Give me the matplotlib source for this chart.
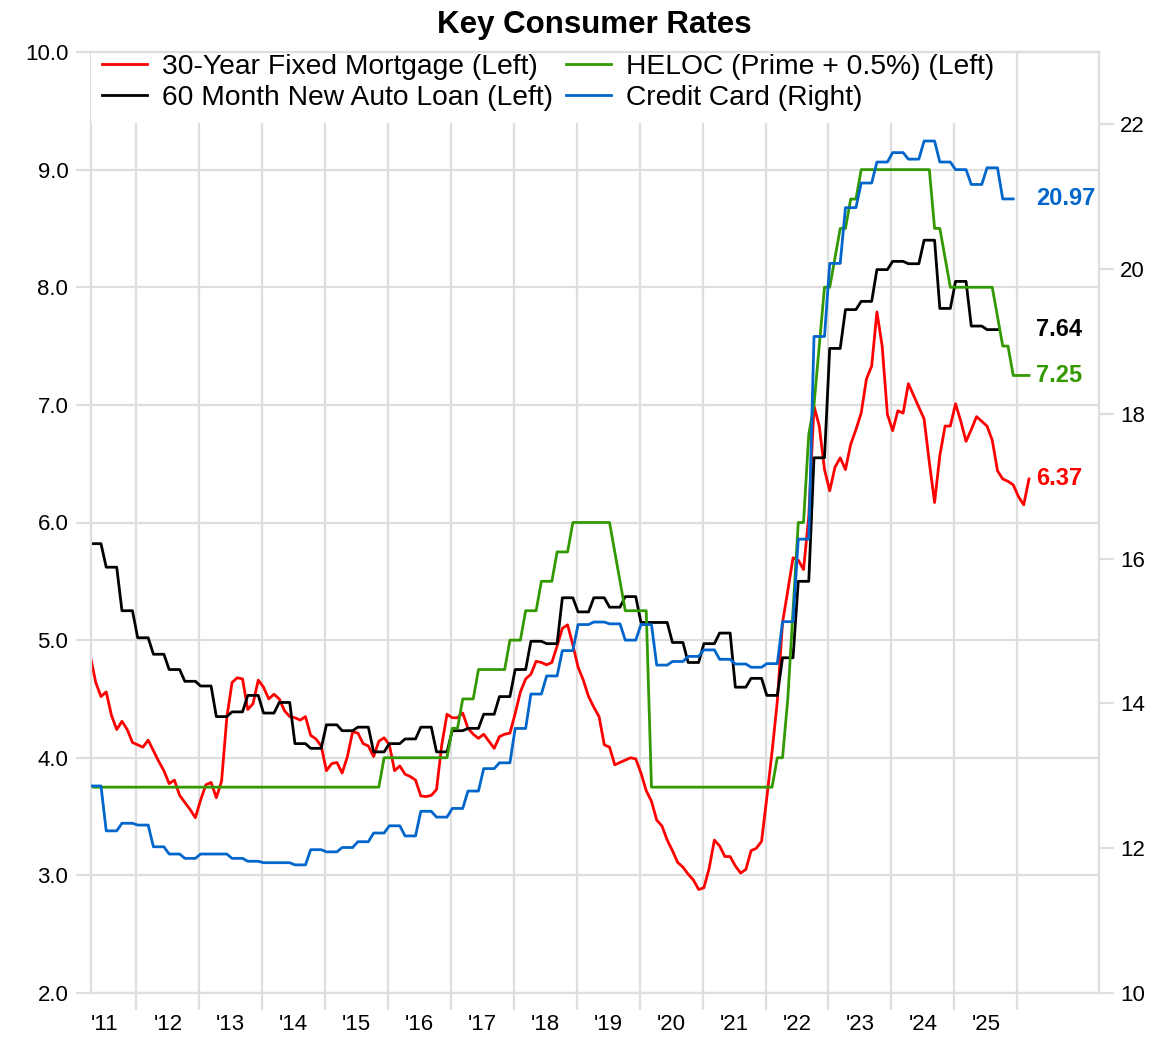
import numpy as np
import matplotlib
matplotlib.use("Agg")
import matplotlib.pyplot as plt
from matplotlib.ticker import FormatStrFormatter

plt.rcParams['font.family'] = ['Liberation Sans', 'DejaVu Sans']

# first monthly observation sits just after the start of April 2011
start_year = 2011.27

# 30-year fixed mortgage, monthly (Apr 2011 ->)
mortgage = [
    4.86, 4.64, 4.52, 4.56, 4.36, 4.24, 4.31, 4.24, 4.13, 4.11,
    4.09, 4.15, 4.06, 3.97, 3.89, 3.78, 3.81, 3.68, 3.62, 3.56,
    3.49, 3.64, 3.77, 3.79, 3.66, 3.80, 4.34, 4.64, 4.68, 4.67,
    4.41, 4.46, 4.66, 4.60, 4.50, 4.54, 4.50, 4.40, 4.35, 4.34,
    4.32, 4.35, 4.19, 4.16, 4.10, 3.89, 3.95, 3.96, 3.87, 4.01,
    4.22, 4.21, 4.12, 4.10, 4.01, 4.14, 4.17, 4.11, 3.89, 3.93,
    3.86, 3.84, 3.81, 3.675, 3.67, 3.68, 3.73, 4.11, 4.37, 4.34,
    4.34, 4.38, 4.25, 4.20, 4.165, 4.20, 4.14, 4.08, 4.18, 4.20,
    4.21, 4.375, 4.56, 4.67, 4.71, 4.82, 4.81, 4.79, 4.81, 4.95,
    5.10, 5.13, 4.96, 4.77, 4.66, 4.52, 4.43, 4.35, 4.11, 4.09,
    3.94, 3.96, 3.98, 4.00, 3.99, 3.87, 3.72, 3.63, 3.47, 3.42,
    3.30, 3.21, 3.11, 3.07, 3.01, 2.96, 2.88, 2.895, 3.06, 3.30,
    3.25, 3.16, 3.16, 3.08, 3.02, 3.05, 3.21, 3.23, 3.29, 3.66,
    4.05, 4.48, 5.15, 5.42, 5.70, 5.68, 5.60, 6.05, 6.99, 6.82,
    6.45, 6.27, 6.47, 6.55, 6.45, 6.665, 6.79, 6.93, 7.22, 7.33,
    7.79, 7.50, 6.92, 6.78, 6.95, 6.93, 7.18, 7.08, 6.98, 6.88,
    6.51, 6.17, 6.57, 6.82, 6.82, 7.01, 6.86, 6.69, 6.79, 6.90,
    6.86, 6.82, 6.70, 6.44, 6.37, 6.35, 6.32, 6.22, 6.15, 6.37,
]

# HELOC (prime + 0.5%), monthly, stored as (rate, number of months)
heloc_runs = [
    (3.75, 56), (4.00, 13), (4.25, 2), (4.50, 3), (4.75, 6), (5.00, 3),
    (5.25, 3), (5.50, 3), (5.75, 3), (6.00, 8), (5.75, 1), (5.50, 1),
    (5.25, 5), (3.75, 24), (4.00, 2), (4.50, 1), (5.25, 1), (6.00, 2),
    (6.75, 1), (7.00, 1), (7.50, 1), (8.00, 2), (8.25, 1), (8.50, 2),
    (8.75, 2), (9.00, 14), (8.50, 2), (8.25, 1), (8.00, 9), (7.75, 1),
    (7.50, 2), (7.25, 4),
]

# 60 month new auto loan, quarterly (Q2 2011 -> Q3 2025)
auto_q = [
    5.82, 5.62, 5.25,
    5.02, 4.88, 4.75, 4.65,
    4.61, 4.35, 4.39, 4.53,
    4.38, 4.47, 4.12, 4.08,
    4.28, 4.23, 4.26, 4.05,
    4.12, 4.16, 4.26, 4.05,
    4.23, 4.25, 4.37, 4.52,
    4.75, 4.99, 4.97, 5.36,
    5.24, 5.36, 5.28, 5.37,
    5.15, 5.15, 4.98, 4.81,
    4.97, 5.06, 4.60, 4.675,
    4.53, 4.85, 5.50, 6.55,
    7.48, 7.81, 7.88, 8.15,
    8.22, 8.20, 8.40, 7.82,
    8.05, 7.67, 7.64,
]

# credit card, quarterly (Q2 2011 -> Q4 2025)
card_q = [
    12.86, 12.24, 12.345,
    12.32, 12.02, 11.92, 11.86,
    11.92, 11.92, 11.86, 11.82,
    11.80, 11.80, 11.77, 11.98,
    11.95, 12.01, 12.09, 12.21,
    12.31, 12.17, 12.51, 12.43,
    12.55, 12.79, 13.10, 13.18,
    13.655, 14.13, 14.38, 14.73,
    15.09, 15.125, 15.10, 14.875,
    15.09, 14.53, 14.58, 14.65,
    14.74, 14.61, 14.545, 14.50,
    14.55, 15.13, 16.27, 19.07,
    20.08, 20.85, 21.19, 21.48,
    21.61, 21.52, 21.77, 21.48,
    21.375, 21.17, 21.40, 20.97,
]

year_labels = ["'11", "'12", "'13", "'14", "'15", "'16", "'17", "'18",
               "'19", "'20", "'21", "'22", "'23", "'24", "'25"]
legend_labels = ['30-Year Fixed Mortgage (Left)', '60 Month New Auto Loan (Left)',
                 'HELOC (Prime + 0.5%) (Left)', 'Credit Card (Right)']

red, black, green, blue = '#ff0000', '#000000', '#339900', '#0066cc'
grid_c = '#dedede'

heloc = np.concatenate([[v] * n for v, n in heloc_runs])
auto = np.repeat(auto_q, 3)
card = np.repeat(card_q, 3)


def months(series):
    return start_year + np.arange(len(series)) / 12


fig = plt.figure(figsize=(11.57, 10.40), dpi=100)
ax = fig.add_axes([90.5 / 1157, 47 / 1040, 1008.5 / 1157, 941 / 1040])
ax2 = ax.twinx()

l1, = ax.plot(months(mortgage), mortgage, color=red, lw=2)
l2, = ax.plot(months(auto), auto, color=black, lw=2)
l3, = ax.plot(months(heloc), heloc, color=green, lw=2)
l4, = ax2.plot(months(card), card, color=blue, lw=2)

ax.set_xlim(start_year, 2027.3)
ax.set_ylim(2, 10)
ax2.set_ylim(10, 23)

ax.set_xticks(np.arange(2012, 2027))
ax.set_xticklabels([])
ax.set_xticks(np.arange(2011.5, 2026), minor=True)
ax.set_xticklabels(year_labels, minor=True)
ax.tick_params(axis='x', which='major', length=12, width=1.6, color=grid_c)
ax.tick_params(axis='x', which='minor', length=0, pad=15, labelsize=16)

ax.set_yticks(np.arange(2, 11))
ax.yaxis.set_major_formatter(FormatStrFormatter('%.1f'))
ax.tick_params(axis='y', length=11, width=1.6, color=grid_c, pad=5, labelsize=16)
ax2.set_yticks(np.arange(10, 23, 2))
ax2.tick_params(axis='y', length=11, width=1.6, color=grid_c, pad=4, labelsize=16)

ax.grid(True, which='major', color=grid_c, lw=1.6)
for s in ax.spines.values():
    s.set_color(grid_c)
    s.set_linewidth(1.6)
for name, s in ax2.spines.items():
    s.set_visible(name == 'top')
    s.set_color(grid_c)
    s.set_linewidth(1.6)

# end-of-series value labels
lab_x = 2026.3
ax.text(lab_x, mortgage[-1], f'{mortgage[-1]:.2f}', color=red, fontsize=17,
        fontweight='bold', va='center')
ax.text(lab_x, auto[-1], f'{auto[-1]:.2f}', color=black, fontsize=17,
        fontweight='bold', va='center')
ax.text(lab_x, heloc[-1], f'{heloc[-1]:.2f}', color=green, fontsize=17,
        fontweight='bold', va='center')
ax2.text(lab_x, card[-1], f'{card[-1]:.2f}', color=blue, fontsize=17,
         fontweight='bold', va='center')

leg = ax2.legend([l1, l2, l3, l4], legend_labels, ncol=2, loc='upper left',
                 bbox_to_anchor=(0, 1.0103), fontsize=20.3, frameon=True,
                 fancybox=False, edgecolor='none', facecolor='white',
                 framealpha=1, handlelength=1.6, handletextpad=0.54,
                 columnspacing=0.46, labelspacing=0.2, borderpad=0.4,
                 borderaxespad=0)
leg.set_zorder(2)  # keep the top spine visible above the legend box

fig.text(594.75 / 1157, 1 - 33.3 / 1040, 'Key Consumer Rates', ha='center',
         va='baseline', fontsize=22.5, fontweight='bold')

fig.savefig('out.png', dpi=100)
